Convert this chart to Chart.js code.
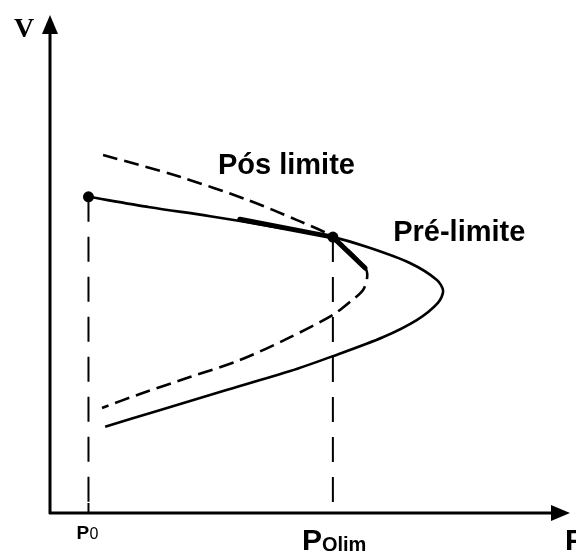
<!DOCTYPE html>
<html>
<head>
<meta charset="utf-8">
<script src="https://cdn.jsdelivr.net/npm/chart.js@4/dist/chart.umd.min.js"></script>
<style>
  html, body { margin: 0; padding: 0; background: #fff; }
  canvas { display: block; }
</style>
</head>
<body>
<canvas id="c" width="576" height="551"></canvas>
<script>
// P-V curves, in arbitrary units (P: 0..10, V: 0..10)
const P0 = 0.74;
const PQLIM = 5.44;
const V_AT_P0 = 6.35;
const V_AT_PQLIM = 5.54;

// pre-limit nose curve (solid)
const preP = [0.74, 1.92, 3.08, 4.23, 5.44, 6.10, 6.92, 7.44, 7.56, 7.46, 7.06, 6.40, 5.44, 4.62, 3.33, 2.06, 1.06];
const preV = [6.35, 6.14, 5.96, 5.76, 5.54, 5.34, 5.02, 4.68, 4.46, 4.22, 3.88, 3.53, 3.15, 2.85, 2.45, 2.05, 1.73];

// post-limit nose curve (dashed)
const posP = [1.02, 2.50, 3.79, 4.75, 5.44, 6.06, 6.10, 6.02, 5.77, 5.44, 4.62, 3.65, 2.69, 1.73, 1.00];
const posV = [7.19, 6.75, 6.29, 5.88, 5.54, 4.92, 4.74, 4.48, 4.24, 3.98, 3.53, 3.07, 2.73, 2.39, 2.11];

// tangent segments at the operating point
const tanAP = [3.65, 5.44];
const tanAV = [5.90, 5.54];
const tanBP = [5.44, 6.06];
const tanBV = [5.54, 4.92];

function pts(xs, ys) {
  return xs.map((x, i) => ({ x: x, y: ys[i] }));
}

const black = '#000';

const axesPlugin = {
  id: 'axes',
  afterDatasetsDraw(chart) {
    const ctx = chart.ctx;
    const xs = chart.scales.x, ys = chart.scales.y;
    const a = chart.chartArea;
    const x0 = xs.getPixelForValue(0), y0 = ys.getPixelForValue(0);
    ctx.save();
    ctx.strokeStyle = black;
    ctx.fillStyle = black;
    ctx.lineWidth = 3;
    // vertical axis
    ctx.beginPath();
    ctx.moveTo(x0, y0 + 1);
    ctx.lineTo(x0, a.top + 14);
    ctx.stroke();
    ctx.beginPath();
    ctx.moveTo(x0, a.top);
    ctx.lineTo(x0 - 8, a.top + 19);
    ctx.lineTo(x0 + 8, a.top + 19);
    ctx.closePath();
    ctx.fill();
    // horizontal axis
    ctx.beginPath();
    ctx.moveTo(x0 - 1, y0);
    ctx.lineTo(a.right - 14, y0);
    ctx.stroke();
    ctx.beginPath();
    ctx.moveTo(a.right, y0);
    ctx.lineTo(a.right - 19, y0 - 8);
    ctx.lineTo(a.right - 19, y0 + 8);
    ctx.closePath();
    ctx.fill();
    // tick at P0
    const px0 = xs.getPixelForValue(P0);
    ctx.lineWidth = 2;
    ctx.beginPath();
    ctx.moveTo(px0, y0 - 10);
    ctx.lineTo(px0, y0);
    ctx.stroke();

    // labels
    ctx.textBaseline = 'alphabetic';
    ctx.textAlign = 'left';
    ctx.font = 'bold 28px "Liberation Serif", serif';
    ctx.fillText('V', 14, 37);

    ctx.font = 'bold 19px "Liberation Sans", Arial, sans-serif';
    ctx.fillText('P', px0 - 12, 539);
    ctx.font = '16px "Liberation Sans", Arial, sans-serif';
    ctx.fillText('0', px0 + 1, 539);

    const pxq = xs.getPixelForValue(PQLIM);
    ctx.font = 'bold 30px "Liberation Sans", Arial, sans-serif';
    ctx.fillText('P', pxq - 31, 550);
    ctx.font = 'bold 20px "Liberation Sans", Arial, sans-serif';
    ctx.fillText('Qlim', pxq - 11, 551);

    ctx.font = 'bold 30px "Liberation Sans", Arial, sans-serif';
    ctx.fillText('P', a.right - 5, 550);

    ctx.font = 'bold 29px "Liberation Sans", Arial, sans-serif';
    ctx.fillText('Pós limite', xs.getPixelForValue(3.23), ys.getPixelForValue(6.80));
    ctx.fillText('Pré-limite', xs.getPixelForValue(6.60), ys.getPixelForValue(5.46));
    ctx.restore();
  }
};

new Chart(document.getElementById('c'), {
  type: 'scatter',
  data: {
    datasets: [
      {
        data: [{ x: P0, y: V_AT_P0 }, { x: PQLIM, y: V_AT_PQLIM }],
        pointRadius: 5.5, pointBackgroundColor: black, pointBorderWidth: 0,
        showLine: false
      },
      {
        data: pts(tanAP, tanAV), showLine: true, borderColor: black,
        borderWidth: 5, pointRadius: 0, borderCapStyle: 'round'
      },
      {
        data: pts(tanBP, tanBV), showLine: true, borderColor: black,
        borderWidth: 5, pointRadius: 0, borderCapStyle: 'round'
      },
      {
        data: pts(preP, preV), showLine: true, borderColor: black,
        borderWidth: 2.6, pointRadius: 0, tension: 0.3
      },
      {
        data: pts(posP, posV), showLine: true, borderColor: black,
        borderWidth: 2.6, pointRadius: 0, tension: 0.3, borderDash: [15, 7]
      },
      {
        data: [{ x: P0, y: V_AT_P0 }, { x: P0, y: 0 }], showLine: true,
        borderColor: black, borderWidth: 2, pointRadius: 0, borderDash: [25, 15]
      },
      {
        data: [{ x: PQLIM, y: V_AT_PQLIM }, { x: PQLIM, y: 0 }], showLine: true,
        borderColor: black, borderWidth: 2, pointRadius: 0, borderDash: [25, 15]
      }
    ]
  },
  options: {
    responsive: false,
    animation: false,
    layout: { padding: { left: 50, right: 6, top: 15, bottom: 38 } },
    plugins: { legend: { display: false }, tooltip: { enabled: false } },
    scales: {
      x: { type: 'linear', min: 0, max: 10, display: false },
      y: { type: 'linear', min: 0, max: 10, display: false }
    }
  },
  plugins: [axesPlugin]
});
</script>
</body>
</html>
